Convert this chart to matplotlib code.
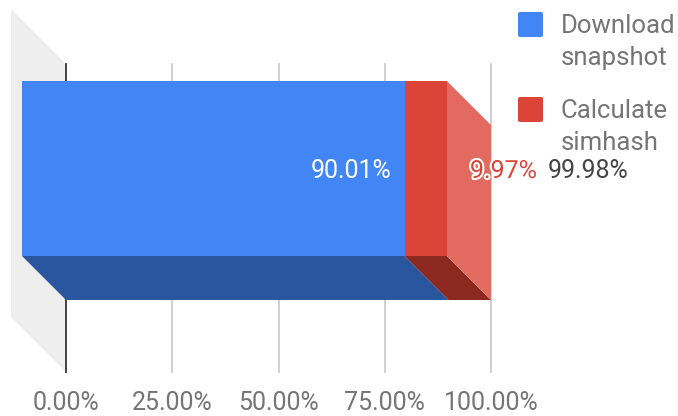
import matplotlib
matplotlib.use("Agg")
import matplotlib.pyplot as plt
from matplotlib.patches import Polygon, FancyBboxPatch
import matplotlib.patheffects as pe

plt.rcParams['font.family'] = ['Roboto', 'DejaVu Sans']

# ---- data ----
series_names = ["Download\nsnapshot", "Calculate\nsimhash"]
series_values = [90.01, 9.97]
total_label = "99.98%"
value_labels = ["90.01%", "9.97%"]
xtick_values = [0, 25, 50, 75, 100]
xtick_labels = ["0.00%", "25.00%", "50.00%", "75.00%", "100.00%"]

front_colors = ["#4285f4", "#db4437"]
bottom_colors = ["#2a56a0", "#8c2a22"]
side_colors = ["#4d8ff5", "#e36a60"]

FS = 18
W, H = 678, 416
fig = plt.figure(figsize=(W / 100, H / 100), dpi=100)
# plot area (back plane)
L, R, T, B = 66, 491, 64, 372
ax = fig.add_axes([L / W, (H - B) / H, (R - L) / W, (B - T) / H])
ax.set_xlim(0, 100)
px_per_x = (R - L) / 100.0
bar_h = 0.8
px_per_y = 175 / bar_h
center_px = 212.5
ax.set_ylim((center_px - B) / px_per_y, (center_px - T) / px_per_y)
for s in ax.spines.values():
    s.set_visible(False)
ax.set_yticks([])
ax.set_xticks(xtick_values)
ax.set_xticklabels(xtick_labels, fontsize=FS, color="#757575")
ax.tick_params(axis='x', length=0, pad=14)
ax.set_facecolor("none")

# 3D depth offsets (data units)
wall_d = 55
bar_d = 44
wdx, wdy = -wall_d / px_per_x, wall_d / px_per_y
bdx, bdy = -bar_d / px_per_x, bar_d / px_per_y

y0, y1 = ax.get_ylim()
ax.add_patch(Polygon([(0, y1), (wdx, y1 + wdy), (wdx, y0 + wdy), (0, y0)],
                     closed=True, facecolor="#eeeeee", edgecolor="none",
                     clip_on=False, zorder=0))

for xv in xtick_values:
    ax.plot([xv, xv], [y0, y1], color="#333333" if xv == 0 else "#cccccc",
            lw=1.3, zorder=1, clip_on=False)

# bars
yc = 0.0
lefts = [sum(series_values[:i]) for i in range(len(series_values))]
bot = yc - bar_h / 2
top = yc + bar_h / 2
for i, (v, lft) in enumerate(zip(series_values, lefts)):
    rgt = lft + v
    # bottom face
    ax.add_patch(Polygon([(lft + bdx, bot + bdy), (rgt + bdx, bot + bdy), (rgt, bot), (lft, bot)],
                         closed=True, facecolor=bottom_colors[i], edgecolor="none",
                         clip_on=False, zorder=2))
total = sum(series_values)
# right side face of last segment
ax.add_patch(Polygon([(total + bdx, top + bdy), (total, top), (total, bot), (total + bdx, bot + bdy)],
                     closed=True, facecolor=side_colors[-1], edgecolor="none",
                     clip_on=False, zorder=2))
for i, (v, lft) in enumerate(zip(series_values, lefts)):
    ax.barh([yc + bdy], [v], left=[lft + bdx], height=bar_h, color=front_colors[i],
            zorder=3, clip_on=False)

# value labels
fy = yc + bdy - 2.5 / px_per_y
ax.text(lefts[0] + series_values[0] + bdx - 13 / px_per_x, fy, value_labels[0],
        ha="right", va="center", fontsize=FS, color="white", zorder=5)
ax.text(total - 21 / px_per_x, fy, value_labels[1], ha="left", va="center",
        fontsize=FS, color=front_colors[1], zorder=5,
        path_effects=[pe.withStroke(linewidth=3, foreground="white")])
ax.text(total + 57 / px_per_x, fy, total_label, ha="left", va="center",
        fontsize=FS, color="#444444", zorder=5, clip_on=False)

# legend (manual)
leg_x, leg_y0, leg_step = 518, 12, 85
for i, name in enumerate(series_names):
    ytop = leg_y0 + i * leg_step
    fig.patches.append(FancyBboxPatch((leg_x / W, 1 - (ytop + 25) / H), 25 / W, 25 / H,
                                      boxstyle="round,pad=0,rounding_size=0.004",
                                      transform=fig.transFigure, facecolor=front_colors[i],
                                      edgecolor="none"))
    for j, line in enumerate(name.split("\n")):
        fig.text(561 / W, 1 - (ytop + 21 + j * 32) / H, line, fontsize=18.5,
                 color="#757575", ha="left", va="baseline")

fig.savefig("out.png", dpi=100)
